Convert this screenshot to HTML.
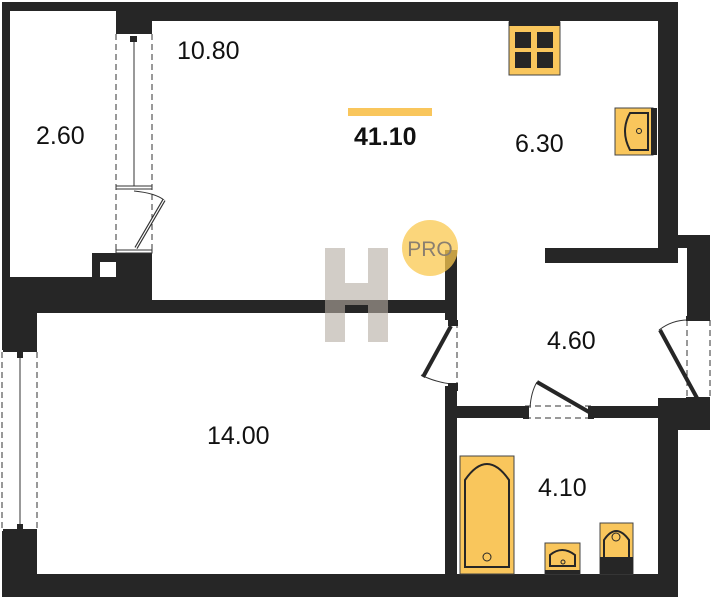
<!DOCTYPE html>
<html><head><style>html,body{margin:0;padding:0;background:#fff}svg{display:block}</style></head>
<body>
<svg width="713" height="600" viewBox="0 0 713 600" xmlns="http://www.w3.org/2000/svg" font-family="Liberation Sans, sans-serif">
<g fill="#262626">
<rect x="2" y="2" width="676" height="9"/>
<rect x="116" y="2" width="562" height="19"/>
<rect x="116" y="2" width="36" height="32"/>
<rect x="2" y="2" width="8" height="300"/>
<rect x="2" y="277" width="150" height="36"/>
<rect x="92" y="253" width="60" height="30"/>
<rect x="152" y="300" width="305" height="13"/>
<rect x="2" y="277" width="35" height="73"/>
<rect x="2" y="531" width="35" height="66"/>
<rect x="2" y="574" width="676" height="23"/>
<!-- right wall -->
<rect x="658" y="2" width="20" height="261"/>
<rect x="658" y="406" width="20" height="191"/>
<rect x="658" y="235" width="52" height="13"/>
<rect x="687" y="235" width="23" height="83"/>
<rect x="658" y="398" width="52" height="32"/>
<rect x="545" y="248" width="133" height="15"/>
<rect x="445" y="250" width="12" height="70"/>
<rect x="445" y="386" width="12" height="190"/>
<rect x="445" y="406" width="80" height="12"/>
<rect x="592" y="406" width="70" height="12"/>
</g>
<rect x="100" y="262" width="16" height="15" fill="#fff"/>
<g stroke="#333" stroke-width="1" fill="none">
<line x1="116" y1="34" x2="116" y2="253" stroke-dasharray="6,4"/>
<line x1="152" y1="34" x2="152" y2="253" stroke-dasharray="6,4"/>
<line x1="134" y1="40" x2="134" y2="186"/>
<rect x="116" y="186" width="36" height="3" fill="#fff"/>
<rect x="116" y="250" width="36" height="3" fill="#fff"/>
<path d="M134 191 Q155 193 164 200" />
<line x1="2" y1="352" x2="2" y2="530" stroke-dasharray="6,4"/>
<line x1="37" y1="352" x2="37" y2="530" stroke-dasharray="6,4"/>
<line x1="20" y1="354" x2="20" y2="528"/>
<line x1="457" y1="322" x2="457" y2="386" stroke-dasharray="6,4"/>
<path d="M421 375 Q435 382 451 384"/>
<line x1="525" y1="406" x2="592" y2="406" stroke-dasharray="6,4"/>
<line x1="525" y1="418" x2="592" y2="418" stroke-dasharray="6,4"/>
<path d="M530 408 Q531 392 537 382"/>
<line x1="687" y1="320" x2="687" y2="398" stroke-dasharray="6,4"/>
<line x1="710" y1="320" x2="710" y2="398" stroke-dasharray="6,4"/>
<path d="M659 330 Q672 320 688 320"/>
</g>
<line x1="164" y1="200" x2="136" y2="248" stroke="#333" stroke-width="3.5"/>
<line x1="164" y1="200" x2="136" y2="248" stroke="#fff" stroke-width="1.2"/>
<g fill="#262626">
<rect x="3" y="348" width="34" height="4"/><rect x="3" y="529" width="34" height="4"/>
<rect x="17" y="352" width="6" height="6"/><rect x="17" y="524" width="6" height="6"/>
<rect x="130" y="36" width="7" height="6"/>
<rect x="448" y="320" width="10" height="6"/><rect x="448" y="383" width="10" height="8"/>
<rect x="523" y="406" width="6" height="13"/><rect x="588" y="406" width="6" height="13"/>
<rect x="686" y="316" width="24" height="5"/><rect x="686" y="397" width="24" height="5"/>
</g>
<g stroke="#262626" stroke-width="4">
<line x1="451" y1="326" x2="423" y2="377"/>
<line x1="537" y1="382" x2="589" y2="412"/>
<line x1="660" y1="330" x2="697" y2="398"/>
</g>
<rect x="509" y="22" width="51" height="53" fill="#f9c65c" stroke="#444" stroke-width="1"/>
<rect x="509" y="21" width="51" height="5" fill="#262626"/>
<g fill="#262626"><rect x="515" y="32" width="16" height="16"/><rect x="537" y="32" width="16" height="16"/><rect x="515" y="52" width="16" height="16"/><rect x="537" y="52" width="16" height="16"/></g>
<rect x="615" y="108" width="38" height="47" fill="#f9c65c" stroke="#444"/>
<rect x="651" y="108" width="6" height="47" fill="#262626"/>
<path d="M648 113 L630 113 Q620 131 630 150 L648 150 Z" fill="none" stroke="#262626" stroke-width="2"/>
<circle cx="639" cy="131" r="2.5" fill="none" stroke="#262626"/>
<rect x="460" y="456" width="54" height="118" fill="#f9c65c" stroke="#444"/>
<path d="M465 567 L465 480 Q487 448 509 480 L509 567 Z" fill="none" stroke="#262626" stroke-width="2"/>
<circle cx="487" cy="557" r="4" fill="none" stroke="#262626"/>
<rect x="545" y="543" width="35" height="31" fill="#f9c65c" stroke="#444"/>
<rect x="545" y="570" width="35" height="4" fill="#262626"/>
<path d="M550 566 L550 555 Q562 545 575 555 L575 566 Z" fill="none" stroke="#262626" stroke-width="2"/>
<circle cx="563" cy="562" r="2" fill="none" stroke="#262626"/>
<rect x="600" y="523" width="33" height="51" fill="#f9c65c" stroke="#444"/>
<rect x="600" y="557" width="33" height="17" fill="#262626"/>
<path d="M604 557 L604 540 Q616 522 629 540 L629 557" fill="none" stroke="#262626" stroke-width="2"/>
<circle cx="616" cy="537" r="4" fill="none" stroke="#262626"/>
<g fill="#b5aca2" opacity="0.6">
<rect x="325" y="248" width="20" height="94"/><rect x="368" y="248" width="20" height="94"/><rect x="345" y="283" width="23" height="22"/>
</g>
<circle cx="430" cy="248" r="28" fill="#f9c84f" opacity="0.75"/>
<text x="430" y="256" font-size="21" fill="#8a7f70" text-anchor="middle">PRO</text>
<rect x="348" y="108" width="84" height="8" fill="#f9c65c"/>
<g font-size="25" fill="#111">
<text x="177" y="59">10.80</text>
<text x="36" y="144">2.60</text>
<text x="354" y="145" font-weight="bold">41.10</text>
<text x="515" y="152">6.30</text>
<text x="547" y="349">4.60</text>
<text x="207" y="444">14.00</text>
<text x="538" y="496">4.10</text>
</g>
</svg>
</body></html>
